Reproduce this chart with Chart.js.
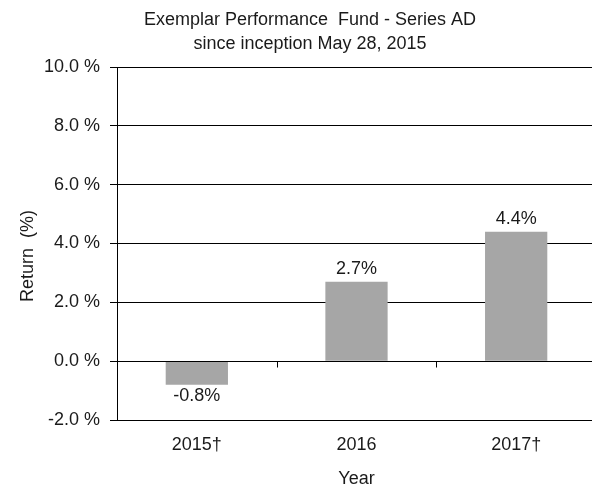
<!DOCTYPE html>
<html>
<head>
<meta charset="utf-8">
<script src="https://cdn.jsdelivr.net/npm/chart.js@4/dist/chart.umd.min.js"></script>
<style>
  html, body { margin: 0; padding: 0; background: #fff; overflow: hidden; }
  #wrap { width: 600px; height: 490px; position: relative; }
</style>
</head>
<body>
<div id="wrap"><canvas id="perfChart"></canvas></div>
<script>
// chart data
const years = ['2015\u2020', '2016', '2017\u2020'];
const returns = [-0.8, 2.7, 4.4];
const yMin = -2;
const yMax = 10;
const yStep = 2;
const titleLines = ['Exemplar Performance  Fund - Series AD', 'since inception May 28, 2015'];

const FONT = '"Liberation Sans", Arial, sans-serif';
const TEXT = '#1a1a1a';

// title, zero line with ticks, and value labels
const extras = {
    id: 'extras',
    afterDatasetsDraw(chart) {
        const ctx = chart.ctx;
        const x = chart.scales.x;
        const y = chart.scales.y;
        const area = chart.chartArea;
        ctx.save();

        // zero line
        const y0 = Math.round(y.getPixelForValue(0)) + 0.5;
        ctx.strokeStyle = '#000';
        ctx.lineWidth = 1;
        ctx.beginPath();
        ctx.moveTo(area.left, y0);
        ctx.lineTo(area.right, y0);
        const half = (x.getPixelForValue(1) - x.getPixelForValue(0)) / 2;
        for (let i = 0; i < years.length - 1; i++) {
            const bx = Math.round(x.getPixelForValue(i) + half) + 0.5;
            ctx.moveTo(bx, y0);
            ctx.lineTo(bx, y0 + 6);
        }
        ctx.stroke();

        // value labels
        ctx.fillStyle = TEXT;
        ctx.font = '18px ' + FONT;
        ctx.textAlign = 'center';
        ctx.textBaseline = 'middle';
        const meta = chart.getDatasetMeta(0);
        meta.data.forEach((bar, i) => {
            const v = returns[i];
            const ly = v >= 0 ? bar.y - 13 : bar.y + 11;
            ctx.fillText(v.toFixed(1) + '%', bar.x, ly);
        });

        // title
        ctx.fillText(titleLines[0], chart.width / 2 + 10, 20);
        ctx.fillText(titleLines[1], chart.width / 2 + 10, 44);
        ctx.restore();
    }
};

const ctx = document.getElementById('perfChart').getContext('2d');
new Chart(ctx, {
    type: 'bar',
    data: {
        labels: years,
        datasets: [{
            label: 'Return',
            data: returns,
            backgroundColor: '#a6a6a6',
            borderWidth: 0,
            categoryPercentage: 1,
            barPercentage: 0.39
        }]
    },
    options: {
        responsive: true,
        maintainAspectRatio: false,
        animation: false,
        layout: { padding: { top: 67, right: 4, left: 0, bottom: 0 } },
        plugins: {
            legend: { display: false },
            title: { display: false },
            tooltip: { enabled: false }
        },
        scales: {
            x: {
                grid: { display: false },
                border: { display: true, color: '#000', width: 1 },
                ticks: {
                    color: TEXT,
                    font: { family: FONT, size: 18 },
                    padding: 6
                },
                title: {
                    display: true,
                    text: 'Year',
                    color: TEXT,
                    font: { family: FONT, size: 18 },
                    padding: { top: 0, bottom: 0 }
                },
                afterFit(scale) { scale.height = 70; }
            },
            y: {
                min: yMin,
                max: yMax,
                grid: {
                    color: '#000',
                    lineWidth: 1,
                    tickLength: 7,
                    drawTicks: true
                },
                border: { display: true, color: '#000', width: 1 },
                ticks: {
                    stepSize: yStep,
                    color: TEXT,
                    font: { family: FONT, size: 18 },
                    padding: 10,
                    callback: v => v.toFixed(1) + ' %'
                },
                title: {
                    display: true,
                    text: 'Return  (%)     ',
                    color: TEXT,
                    font: { family: FONT, size: 18 },
                    padding: { top: 17, bottom: 0 }
                },
                afterFit(scale) { scale.width = 117; }
            }
        }
    },
    plugins: [extras]
});
</script>
</body>
</html>
